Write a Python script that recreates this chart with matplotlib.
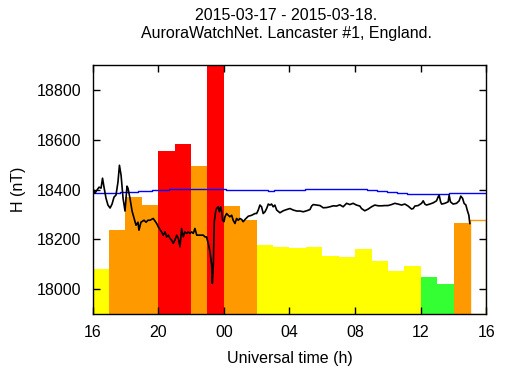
import numpy as np
import matplotlib
matplotlib.use('Agg')
import matplotlib.pyplot as plt

plt.rcParams['font.family'] = ['Liberation Sans', 'DejaVu Sans']
plt.rcParams['font.size'] = 11.5

# hourly activity bars (start hour, hours since 16:00 on 2015-03-17)
bar_start = np.arange(16, 40)
bar_value = [18080, 18237, 18371, 18339, 18555, 18583, 18494, 18950,
             18334, 18277, 18177, 18169, 18166, 18169, 18133, 18129,
             18161, 18113, 18074, 18092, 18048, 18020, 18267, 18276]
bar_level = ['yellow', 'orange', 'orange', 'orange', 'red', 'red', 'orange', 'red',
             'orange', 'orange', 'yellow', 'yellow', 'yellow', 'yellow', 'yellow', 'yellow',
             'yellow', 'yellow', 'yellow', 'yellow', 'green', 'green', 'orange', 'partial']
level_colour = {'yellow': '#ffff00', 'orange': '#ff9900', 'red': '#ff0000',
                'green': '#33ff33', 'partial': 'white'}

# quiet-day baseline (blue steps)
base_t = [16.0, 17.67, 18.79, 19.6, 20.68, 24.13, 26.71, 27.07, 28.94, 32.70,
          33.34, 33.95, 34.53, 35.14, 37.73, 40.0]
base_v = [18386, 18390, 18393, 18397, 18401, 18397, 18393, 18397, 18401, 18397,
          18393, 18389, 18385, 18381, 18385, 18385]

# measured H component (black)
h_t = [16.01, 16.15, 16.27, 16.40, 16.52, 16.61, 16.70, 16.82, 16.94, 17.07,
       17.19, 17.31, 17.43, 17.55, 17.64, 17.74, 17.86, 17.98, 18.10, 18.16,
       18.28, 18.41, 18.53, 18.65, 18.77, 18.83, 18.95, 19.14, 19.26, 19.38,
       19.50, 19.70, 19.91, 20.01, 20.21, 20.31, 20.42, 20.52, 20.62, 20.72,
       20.82, 20.92, 21.02, 21.13, 21.23, 21.33, 21.43, 21.53, 21.63, 21.74,
       21.83, 21.94, 22.04, 22.14, 22.24, 22.35, 22.55, 22.75, 22.85, 22.95,
       23.05, 23.16, 23.26, 23.30, 23.36, 23.42, 23.50, 23.56, 23.66, 23.73,
       23.81, 23.87, 23.93, 24.01, 24.07, 24.17, 24.27, 24.37, 24.48, 24.57,
       24.68, 24.78, 24.88, 24.98, 25.09, 25.18, 25.29, 25.49, 25.70, 25.90,
       26.00, 26.10, 26.20, 26.30, 26.40, 26.51, 26.61, 26.71, 26.81, 26.91,
       27.01, 27.11, 27.22, 27.42, 27.62, 27.83, 28.03, 28.23, 28.44, 28.64,
       28.84, 29.05, 29.25, 29.35, 29.45, 29.65, 29.86, 30.06, 30.26, 30.46,
       30.67, 30.87, 31.07, 31.27, 31.48, 31.68, 31.88, 32.08, 32.29, 32.39,
       32.59, 32.80, 33.00, 33.20, 33.41, 33.61, 33.81, 34.01, 34.22, 34.42,
       34.62, 34.83, 35.03, 35.23, 35.44, 35.54, 35.64, 35.84, 36.05, 36.15,
       36.25, 36.35, 36.55, 36.76, 36.96, 37.06, 37.12, 37.21, 37.27, 37.47,
       37.67, 37.73, 37.81, 37.97, 38.18, 38.34, 38.44, 38.55, 38.64, 38.75,
       38.83, 38.93, 38.99]
h_v = [18406, 18386, 18398, 18410, 18406, 18446, 18410, 18366, 18338, 18326,
       18342, 18370, 18378, 18430, 18498, 18458, 18366, 18314, 18414, 18406,
       18366, 18314, 18285, 18257, 18269, 18237, 18269, 18277, 18269, 18277,
       18277, 18284, 18264, 18250, 18230, 18217, 18230, 18210, 18217, 18204,
       18197, 18184, 18197, 18217, 18204, 18170, 18244, 18210, 18230, 18224,
       18230, 18224, 18230, 18224, 18244, 18217, 18217, 18217, 18210, 18210,
       18184, 18150, 18096, 18023, 18096, 18271, 18311, 18324, 18331, 18311,
       18331, 18311, 18277, 18271, 18291, 18304, 18297, 18291, 18297, 18277,
       18264, 18284, 18277, 18284, 18280, 18271, 18280, 18293, 18297, 18304,
       18304, 18318, 18338, 18331, 18304, 18311, 18324, 18342, 18338, 18342,
       18331, 18338, 18318, 18307, 18315, 18320, 18324, 18318, 18314, 18314,
       18311, 18315, 18320, 18334, 18340, 18338, 18336, 18327, 18328, 18331,
       18335, 18334, 18339, 18331, 18345, 18340, 18345, 18338, 18334, 18324,
       18315, 18322, 18331, 18338, 18335, 18335, 18336, 18336, 18340, 18345,
       18342, 18338, 18342, 18334, 18322, 18324, 18334, 18336, 18345, 18355,
       18342, 18338, 18342, 18347, 18355, 18371, 18378, 18351, 18342, 18345,
       18351, 18378, 18351, 18342, 18345, 18355, 18374, 18365, 18345, 18338,
       18318, 18297, 18264]

x_ticks = [16, 20, 24, 28, 32, 36, 40]
x_labels = ['16', '20', '00', '04', '08', '12', '16']
y_ticks = [18000, 18200, 18400, 18600, 18800]

fig = plt.figure(figsize=(5.12, 3.84), dpi=100)
ax = fig.add_axes([0.1807, 0.1823, 0.7693, 0.6477])
ymin, ymax = 17900, 18900

for t, v, lev in zip(bar_start, bar_value, bar_level):
    if lev == 'partial':
        ax.bar(t, v - ymin, width=1, bottom=ymin, align='edge',
               color='white', edgecolor='#ff9900', linewidth=1, zorder=1)
    else:
        ax.bar(t, v - ymin, width=1, bottom=ymin, align='edge',
               color=level_colour[lev], linewidth=0, zorder=1)

ax.step(base_t, base_v, where='post', color='#0000ff', lw=1, zorder=2)
ax.plot(h_t, h_v, color='black', lw=1.2, zorder=3)

ax.set_xlim(16, 40)
ax.set_ylim(ymin, ymax)
ax.set_xticks(x_ticks)
ax.set_xticklabels(x_labels)
ax.set_yticks(y_ticks)
ax.tick_params(direction='in', top=True, right=True, length=5, width=1, color='black')
ax.tick_params(axis='x', pad=8)
ax.tick_params(axis='y', pad=8)
for s in ax.spines.values():
    s.set_linewidth(1)
    s.set_zorder(4)

ax.set_xlabel('Universal time (h)', labelpad=8)
ax.set_ylabel('H (nT)', labelpad=8)
fig.text(0.559, 0.96, '2015-03-17 - 2015-03-18.', ha='center', va='center')
fig.text(0.559, 0.913, 'AuroraWatchNet. Lancaster #1, England.', ha='center', va='center')

fig.savefig('out.png', dpi=100)
